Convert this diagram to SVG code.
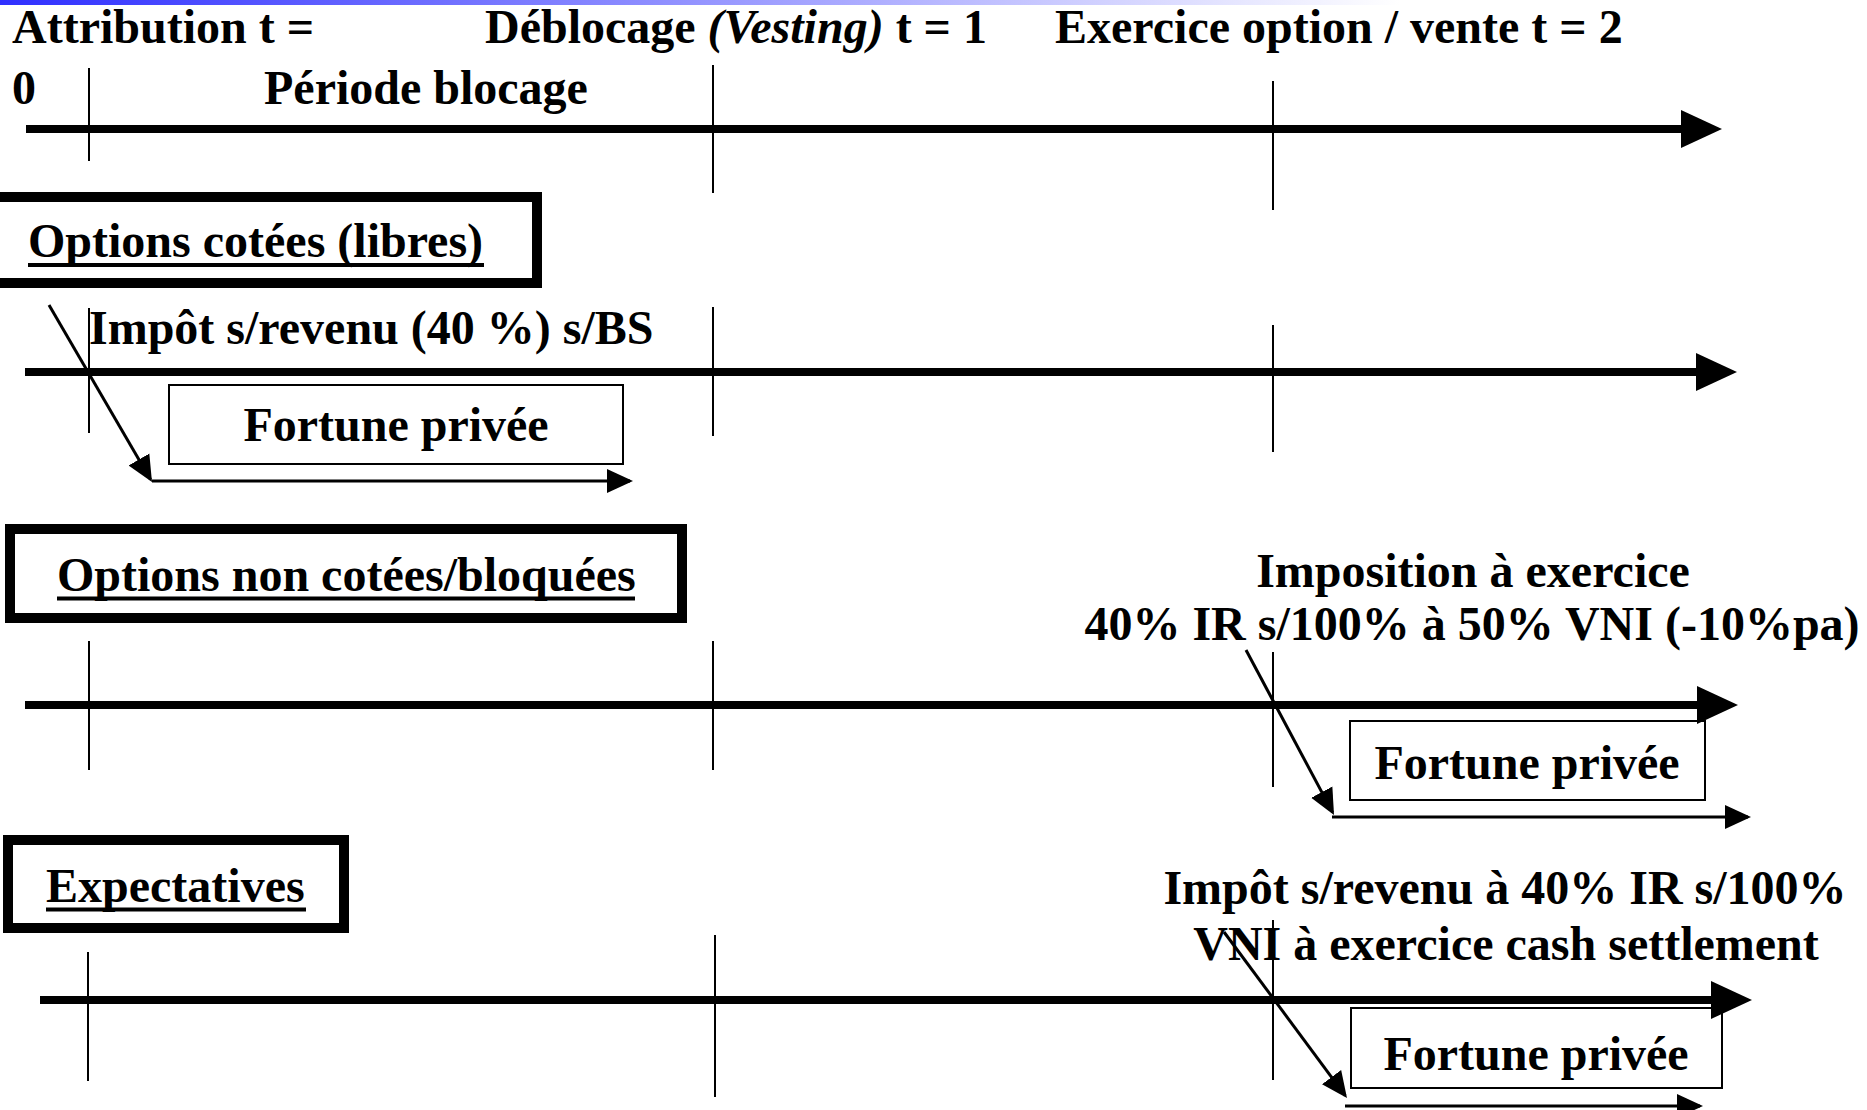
<svg xmlns="http://www.w3.org/2000/svg" width="1867" height="1110" viewBox="0 0 1867 1110">
  <style>
    .t { font-family: "Liberation Serif", "Times New Roman", serif; font-weight: bold; font-size: 48px; fill: #000; }
    .c { text-anchor: middle; }
    .ul { stroke: #000; stroke-width: 4; }
    .axis { stroke: #000; stroke-width: 8; fill: none; }
    .tick { stroke: #000; stroke-width: 2; fill: none; }
    .flow { stroke: #000; stroke-width: 3; fill: none; }
    .thick { fill: #fff; stroke: #000; stroke-width: 10; }
    .thin { fill: #fff; stroke: #000; stroke-width: 2; }
  </style>
  <defs>
    <linearGradient id="band" x1="0" y1="0" x2="1" y2="0">
      <stop offset="0" stop-color="#2f2fff"/>
      <stop offset="0.45" stop-color="#a9a9ff"/>
      <stop offset="0.75" stop-color="#ffffff"/>
    </linearGradient>
    <marker id="bigHead" markerUnits="userSpaceOnUse" markerWidth="42" markerHeight="40" viewBox="0 -20 42 40" refX="1" refY="0" orient="auto">
      <path d="M0,-19 L41,0 L0,19 z" fill="#000"/>
    </marker>
    <marker id="smallHead" markerUnits="userSpaceOnUse" markerWidth="28" markerHeight="26" viewBox="0 -13 28 26" refX="23" refY="0" orient="auto">
      <path d="M0,-12 L26,0 L0,12 z" fill="#000"/>
    </marker>
  </defs>

  <rect x="0" y="0" width="1867" height="5" fill="url(#band)"/>

  <!-- time scale headings -->
  <g id="header">
    <text class="t" x="12" y="43">Attribution t =</text>
    <text class="t" x="12" y="104">0</text>
    <text class="t" x="485" y="43">Déblocage <tspan font-style="italic">(Vesting)</tspan> t = 1</text>
    <text class="t" x="1055" y="43">Exercice option / vente t = 2</text>
    <text class="t" x="264" y="104">Période blocage</text>
  </g>

  <!-- category titles -->
  <g id="cat-cotees">
    <rect class="thick" x="-20" y="197" width="557" height="86"/>
    <text class="t" x="28" y="257">Options cotées (libres)</text>
    <line class="ul" x1="28" y1="265" x2="484" y2="265"/>
  </g>
  <g id="cat-non-cotees">
    <rect class="thick" x="10" y="529" width="672" height="89"/>
    <text class="t" x="57" y="591">Options non cotées/bloquées</text>
    <line class="ul" x1="57" y1="598.5" x2="635" y2="598.5"/>
  </g>
  <g id="cat-expectatives">
    <rect class="thick" x="8" y="840" width="336" height="88"/>
    <text class="t" x="46" y="902">Expectatives</text>
    <line class="ul" x1="46" y1="909.5" x2="306" y2="909.5"/>
  </g>

  <!-- tax notes -->
  <g id="note-cotees">
    <text class="t" x="89" y="344">Impôt s/revenu (40 %) s/BS</text>
  </g>
  <g id="note-non-cotees">
    <text class="t c" x="1473" y="587">Imposition à exercice</text>
    <text class="t c" x="1472" y="640">40% IR s/100% à 50% VNI (-10%pa)</text>
  </g>
  <g id="note-expectatives">
    <text class="t c" x="1505" y="904">Impôt s/revenu à 40% IR s/100%</text>
    <text class="t c" x="1506" y="960">VNI à exercice cash settlement</text>
  </g>

  <!-- private wealth boxes -->
  <g id="fortune-1">
    <rect class="thin" x="169" y="385" width="454" height="79"/>
    <text class="t c" x="396" y="441">Fortune privée</text>
  </g>
  <g id="fortune-2">
    <rect class="thin" x="1350" y="721" width="355" height="79"/>
    <text class="t c" x="1527" y="779">Fortune privée</text>
  </g>
  <g id="fortune-3">
    <rect class="thin" x="1351" y="1008" width="371" height="80"/>
    <text class="t c" x="1536" y="1070">Fortune privée</text>
  </g>

  <!-- time axes, period ticks and transfer arrows -->
  <g id="connectors">
    <line class="axis" x1="26" y1="129" x2="1682" y2="129" marker-end="url(#bigHead)"/>
    <line class="axis" x1="25" y1="372" x2="1697" y2="372" marker-end="url(#bigHead)"/>
    <line class="axis" x1="25" y1="705" x2="1698" y2="705" marker-end="url(#bigHead)"/>
    <line class="axis" x1="40" y1="1000" x2="1712" y2="1000" marker-end="url(#bigHead)"/>

    <line class="tick" x1="89" y1="68" x2="89" y2="161"/>
    <line class="tick" x1="713" y1="65" x2="713" y2="193"/>
    <line class="tick" x1="1273" y1="81" x2="1273" y2="210"/>

    <line class="tick" x1="89" y1="308" x2="89" y2="433"/>
    <line class="tick" x1="713" y1="307" x2="713" y2="436"/>
    <line class="tick" x1="1273" y1="325" x2="1273" y2="452"/>

    <line class="tick" x1="89" y1="641" x2="89" y2="770"/>
    <line class="tick" x1="713" y1="641" x2="713" y2="770"/>
    <line class="tick" x1="1273" y1="652" x2="1273" y2="787"/>

    <line class="tick" x1="88" y1="952" x2="88" y2="1081"/>
    <line class="tick" x1="715" y1="935" x2="715" y2="1097"/>
    <line class="tick" x1="1273" y1="920" x2="1273" y2="1080"/>

    <line class="flow" x1="49" y1="305" x2="150.5" y2="479.4" marker-end="url(#smallHead)"/>
    <line class="flow" x1="152" y1="481" x2="630" y2="481" marker-end="url(#smallHead)"/>

    <line class="flow" x1="1246" y1="650" x2="1332.6" y2="812.4" marker-end="url(#smallHead)"/>
    <line class="flow" x1="1332" y1="817" x2="1748" y2="817" marker-end="url(#smallHead)"/>

    <line class="flow" x1="1224" y1="932" x2="1345.2" y2="1095.6" marker-end="url(#smallHead)"/>
    <line class="flow" x1="1345" y1="1106" x2="1700" y2="1106" marker-end="url(#smallHead)"/>
  </g>
</svg>
